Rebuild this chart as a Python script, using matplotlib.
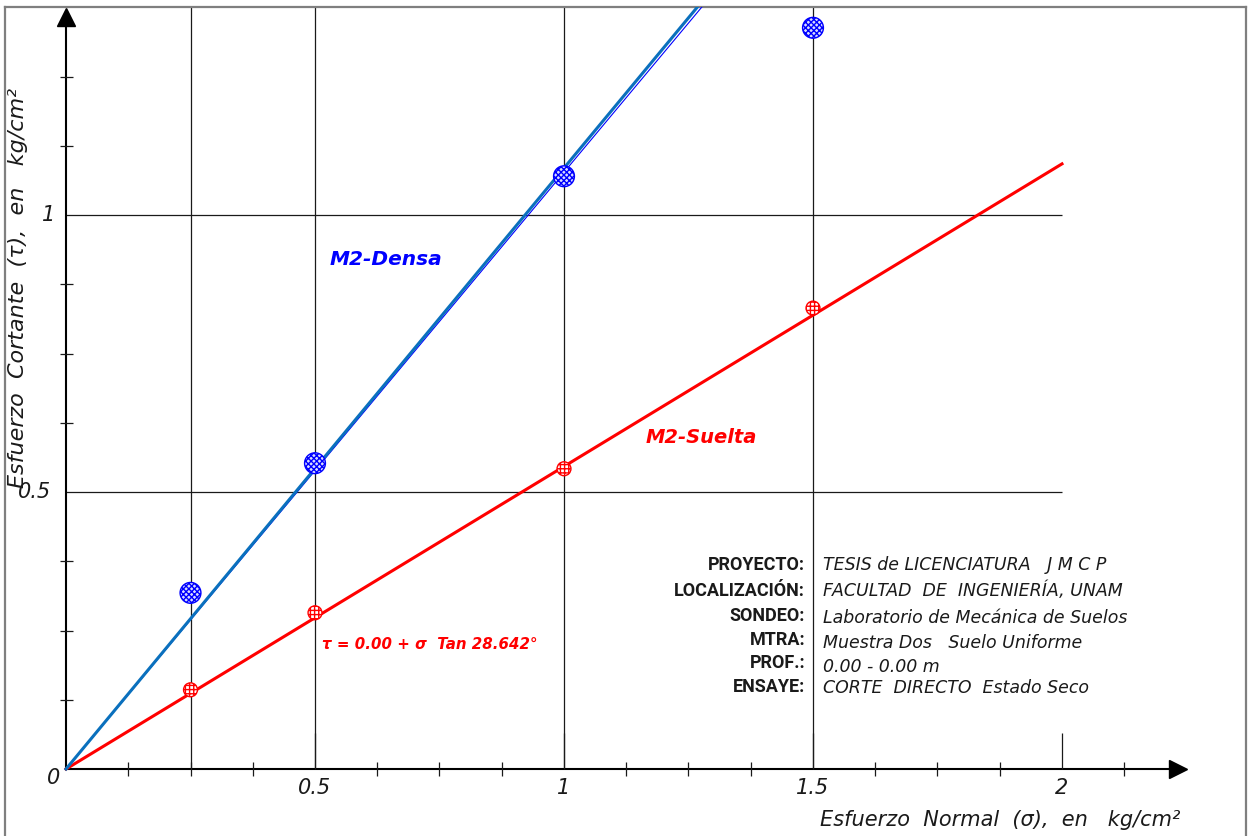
#!/usr/bin/env python3
"""Direct shear test: Mohr-Coulomb envelopes for M2 dense and loose samples."""
import matplotlib
matplotlib.use("Agg")
import matplotlib.pyplot as plt
import numpy as np


SIGMA = [0.25, 0.5, 1.0, 1.5]
TAU_DENSA = [0.318, 0.552, 1.070, 1.338]
TAU_SUELTA = [0.143, 0.282, 0.542, 0.832]
PHI_DENSA = 47.33        # envolvente ajustada (linea gruesa)
PHI_DENSA_ALT = 47.13    # segunda recta (linea delgada)
PHI_SUELTA = 28.642
COHESION = 0.00

X_MAJOR = [0.5, 1.0, 1.5, 2.0]
X_MINOR = [0.125, 0.25, 0.375, 0.625, 0.75, 0.875, 1.125, 1.25, 1.375,
           1.625, 1.75, 1.875, 2.125]
Y_MAJOR = [0.5, 1.0]
Y_MINOR = [0.125, 0.25, 0.375, 0.625, 0.75, 0.875, 1.125, 1.25]
GRID_X = [0.25, 0.5, 1.0, 1.5]

INFO_KEYS = ["PROYECTO:", "LOCALIZACIÓN:", "SONDEO:", "MTRA:", "PROF.:", "ENSAYE:"]
INFO_VALUES = ["TESIS de LICENCIATURA   J M C P",
               "FACULTAD  DE  INGENIERÍA, UNAM",
               "Laboratorio de Mecánica de Suelos",
               "Muestra Dos   Suelo Uniforme",
               "0.00 - 0.00 m",
               "CORTE  DIRECTO  Estado Seco"]

FONT = ["DejaVu Sans"]
BOLD_FONT = ["Roboto", "DejaVu Sans"]
BLUE = "#0000ff"
STEEL = "#0a70bd"
RED = "#ff0000"
INK = "#1a1a1a"


def main():
    plt.rcParams["font.family"] = FONT
    plt.rcParams["hatch.linewidth"] = 1.0
    fig = plt.figure(figsize=(12.5, 8.36), dpi=100)
    ax = fig.add_axes([5 / 1250, 0, 1241 / 1250, 829 / 836])
    ax.set_xlim(-0.1225, 2.3695)
    ax.set_ylim(-0.1209, 1.3755)
    ax.set_xticks([])
    ax.set_yticks([])
    for side in ["left", "top", "right"]:
        ax.spines[side].set_color("#7f7f7f")
        ax.spines[side].set_linewidth(1.6)
    ax.spines["bottom"].set_visible(False)
    top = ax.get_ylim()[1]

    # grid
    ax.hlines(Y_MAJOR, 0, 2.0, color=INK, lw=0.9, zorder=1)
    ax.vlines(GRID_X, 0, top, color=INK, lw=0.9, zorder=1)

    # axes with arrows and ticks
    ax.plot([0, 2.23], [0, 0], color="black", lw=1.5, zorder=2)
    ax.plot(2.232, 0, marker=">", ms=13, color="black", zorder=2)
    ax.plot([0, 0], [0, 1.355], color="black", lw=1.5, zorder=2)
    ax.plot(0, 1.357, marker="^", ms=13, color="black", zorder=2)
    ax.vlines(X_MINOR, -0.0125, 0.0125, color=INK, lw=0.9)
    ax.vlines(X_MAJOR, 0, 0.065, color=INK, lw=0.9)
    ax.hlines(Y_MINOR, -0.012, 0.014, color=INK, lw=0.9)

    tick_style = dict(fontsize=15, style="italic", color=INK)
    ax.text(-0.012, -0.016, "0", ha="right", va="center", **tick_style)
    for x in X_MAJOR:
        ax.text(x, -0.034, f"{x:g}", ha="center", va="center", **tick_style)
    ax.text(-0.030, 0.5, "0.5", ha="right", va="center", **tick_style)
    ax.text(-0.022, 1.0, "1", ha="right", va="center", **tick_style)

    ax.text(1.876, -0.092, "Esfuerzo  Normal  (σ),  en   kg/cm²",
            ha="center", va="center", fontsize=15, style="italic", color=INK)
    ax.text(-0.0964, 0.868, "Esfuerzo  Cortante  (τ),  en   kg/cm²",
            ha="center", va="center", rotation=90, fontsize=16,
            style="italic", color=INK)

    # envelopes
    xs = np.array([0.0, 2.0])
    ax.plot(xs, COHESION + xs * np.tan(np.radians(PHI_SUELTA)),
            color=RED, lw=2.2, zorder=3)
    ax.plot(xs, COHESION + xs * np.tan(np.radians(PHI_DENSA_ALT)),
            color=BLUE, lw=0.8, zorder=3)
    ax.plot(xs, COHESION + xs * np.tan(np.radians(PHI_DENSA)),
            color=STEEL, lw=2.2, zorder=3)

    # measured points
    ax.scatter(SIGMA, TAU_DENSA, s=225, facecolor="#d8dcff", edgecolor=BLUE,
               hatch="xxxxxx", lw=1.0, zorder=4)
    ax.scatter(SIGMA, TAU_SUELTA, s=100, facecolor="white", edgecolor=RED,
               hatch="++++", lw=1.0, zorder=4)

    ax.text(0.643, 0.919, "M2-Densa", ha="center", va="center", fontsize=14.5,
            weight="bold", style="italic", color=BLUE)
    ax.text(1.275, 0.599, "M2-Suelta", ha="center", va="center", fontsize=14,
            weight="bold", style="italic", color=RED)
    ax.text(0.514, 0.224,
            f"τ = {COHESION:.2f} + σ  Tan {PHI_SUELTA:.3f}°",
            ha="left", va="center", fontsize=10.8, weight="bold",
            style="italic", color=RED)

    # project block
    key_y = [0.368, 0.321, 0.276, 0.233, 0.191, 0.148]
    val_y = [0.368, 0.321, 0.273, 0.227, 0.184, 0.146]
    for key, value, ky, vy in zip(INFO_KEYS, INFO_VALUES, key_y, val_y):
        ax.text(1.484, ky, key, ha="right", va="center", fontsize=13,
                weight="bold", color=INK, family=BOLD_FONT)
        ax.text(1.520, vy, value, ha="left", va="center", fontsize=12.5,
                style="italic", color=INK)

    fig.savefig("out.png", dpi=100)
    plt.close(fig)


if __name__ == "__main__":
    main()
